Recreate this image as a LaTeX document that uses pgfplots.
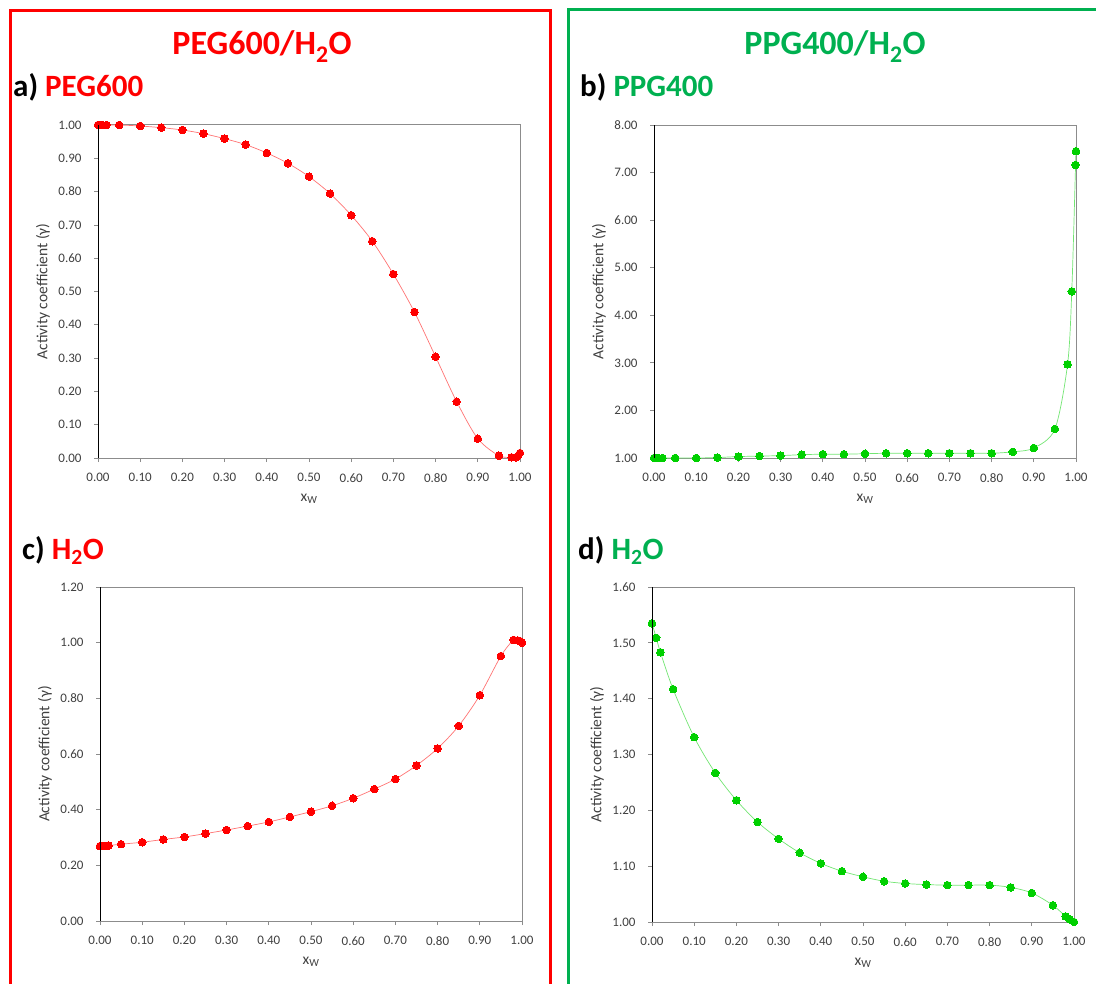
\documentclass[border=0pt]{standalone}
\usepackage{fontspec}
\setmainfont{Carlito}
\usepackage{pgfplots}
\pgfplotsset{compat=1.18}
\definecolor{myred}{HTML}{FF0000}
\definecolor{mygreen}{HTML}{00B050}
\definecolor{mkgreen}{HTML}{00D000}
\definecolor{axgray}{HTML}{8C8C8C}
\definecolor{tickgray}{HTML}{404040}

\pgfplotsset{
  panel/.style={
    scale only axis, width=422pt, height=333pt,
    xmin=0, xmax=1,
    xtick={0,0.1,0.2,0.3,0.4,0.5,0.6,0.7,0.8,0.9,1.0},
    axis line style={axgray, line width=1pt},
    tick style={axgray, line width=0.8pt},
    tick align=outside, major tick length=4pt,
    xtick pos=bottom, ytick pos=left,
    /pgf/number format/.cd, fixed, fixed zerofill, precision=2, assume math mode=true,
    /pgfplots/.cd,
    ticklabel style={font=\fontsize{13}{15}\selectfont, text=tickgray},
    xticklabel style={yshift=-8pt},
    yticklabel style={xshift=-9pt},
    xlabel={x\textsubscript{W}},
    ylabel={Activity coefficient (γ)},
    label style={font=\fontsize{15.5}{17}\selectfont, text=tickgray},
    xlabel style={at={(axis description cs:0.5,0)}, yshift=-41pt, anchor=center},
    ylabel style={at={(axis description cs:0,0.5)}, yshift=55pt, anchor=center},
    after end axis/.code={\draw[black, line width=1pt] (rel axis cs:0,0) -- (rel axis cs:0,1);},
  },
  redplot/.style={smooth, color=myred!55, line width=0.7pt, mark=*, mark size=3.8pt,
    mark options={fill=myred, draw=myred, line width=0pt}},
  greenplot/.style={smooth, color=mkgreen!55, line width=0.7pt, mark=*, mark size=3.8pt,
    mark options={fill=mkgreen, draw=mkgreen, line width=0pt}},
}

\begin{document}
\begin{tikzpicture}
\path[use as bounding box] (0pt,0pt) rectangle (1096pt,-984pt);

% frames
\draw[myred, line width=3pt] (10pt,-990pt) -- (10pt,-11pt) -- (550pt,-11pt) -- (550pt,-990pt);
\draw[mygreen, line width=3pt] (568pt,-990pt) -- (568pt,-10pt) -- (1100pt,-10pt);

% titles
\node[anchor=base, inner sep=0pt, text=myred, font=\fontsize{34}{40}\selectfont\bfseries] at (262pt,-55pt) {PEG600/H\textsubscript{2}O};
\node[anchor=base, inner sep=0pt, text=mygreen, font=\fontsize{34}{40}\selectfont\bfseries] at (835pt,-55pt) {PPG400/H\textsubscript{2}O};
\node[anchor=base west, inner sep=0pt, font=\fontsize{31}{36}\selectfont\bfseries] at (13pt,-97pt) {a) \textcolor{myred}{PEG600}};
\node[anchor=base west, inner sep=0pt, font=\fontsize{31}{36}\selectfont\bfseries] at (580pt,-97pt) {b) \textcolor{mygreen}{PPG400}};
\node[anchor=base west, inner sep=0pt, font=\fontsize{31}{36}\selectfont\bfseries] at (22pt,-559pt) {c) \textcolor{myred}{H\textsubscript{2}O}};
\node[anchor=base west, inner sep=0pt, font=\fontsize{31}{36}\selectfont\bfseries] at (578pt,-559pt) {d) \textcolor{mygreen}{H\textsubscript{2}O}};

% a) PEG600
\begin{axis}[panel, at={(98pt,-458pt)}, anchor=south west,
  ymin=0, ymax=1, ytick={0,0.1,0.2,0.3,0.4,0.5,0.6,0.7,0.8,0.9,1.0}]
\addplot[redplot] coordinates {
(0,1.000) (0.005,1.000) (0.01,1.000) (0.02,1.000) (0.05,1.000) (0.10,0.997)
(0.15,0.992) (0.20,0.985) (0.25,0.974) (0.30,0.959) (0.35,0.941) (0.40,0.916)
(0.45,0.885) (0.50,0.845) (0.55,0.794) (0.60,0.729) (0.65,0.651) (0.70,0.552)
(0.75,0.438) (0.80,0.304) (0.85,0.169) (0.90,0.058) (0.95,0.007) (0.98,0.002)
(0.99,0.002) (0.995,0.006) (1.00,0.015)};
\end{axis}

% b) PPG400
\begin{axis}[panel, at={(654pt,-458pt)}, anchor=south west,
  ymin=1, ymax=8, ytick={1,2,3,4,5,6,7,8}]
\addplot[greenplot] coordinates {
(0,1.00) (0.005,1.00) (0.01,1.00) (0.02,1.00) (0.05,1.00) (0.10,1.00)
(0.15,1.01) (0.20,1.03) (0.25,1.04) (0.30,1.05) (0.35,1.07) (0.40,1.08)
(0.45,1.08) (0.50,1.09) (0.55,1.10) (0.60,1.10) (0.65,1.10) (0.70,1.10)
(0.75,1.10) (0.80,1.10) (0.85,1.13) (0.90,1.21) (0.95,1.61) (0.98,2.97)
(0.99,4.50) (0.999,7.16) (1.00,7.45)};
\end{axis}

% c) H2O in PEG600
\begin{axis}[panel, at={(100pt,-921pt)}, anchor=south west, height=334pt,
  ymin=0, ymax=1.2, ytick={0,0.2,0.4,0.6,0.8,1.0,1.2}]
\addplot[redplot] coordinates {
(0,0.269) (0.005,0.269) (0.01,0.269) (0.02,0.271) (0.05,0.276) (0.10,0.283)
(0.15,0.293) (0.20,0.302) (0.25,0.314) (0.30,0.327) (0.35,0.341) (0.40,0.356)
(0.45,0.374) (0.50,0.393) (0.55,0.414) (0.60,0.441) (0.65,0.474) (0.70,0.510)
(0.75,0.559) (0.80,0.620) (0.85,0.701) (0.90,0.811) (0.95,0.952) (0.98,1.010)
(0.99,1.008) (0.995,1.006) (1.00,1.000)};
\end{axis}

% d) H2O in PPG400
\begin{axis}[panel, at={(652pt,-922pt)}, anchor=south west, height=335pt,
  ymin=1, ymax=1.6, ytick={1.0,1.1,1.2,1.3,1.4,1.5,1.6}]
\addplot[greenplot] coordinates {
(0,1.535) (0.01,1.509) (0.02,1.483) (0.05,1.417) (0.10,1.331) (0.15,1.267)
(0.20,1.218) (0.25,1.179) (0.30,1.149) (0.35,1.124) (0.40,1.105) (0.45,1.091)
(0.50,1.081) (0.55,1.073) (0.60,1.069) (0.65,1.067) (0.70,1.066) (0.75,1.066)
(0.80,1.066) (0.85,1.062) (0.90,1.052) (0.95,1.030) (0.98,1.010) (0.99,1.005)
(1.00,1.000)};
\end{axis}
\end{tikzpicture}
\end{document}
